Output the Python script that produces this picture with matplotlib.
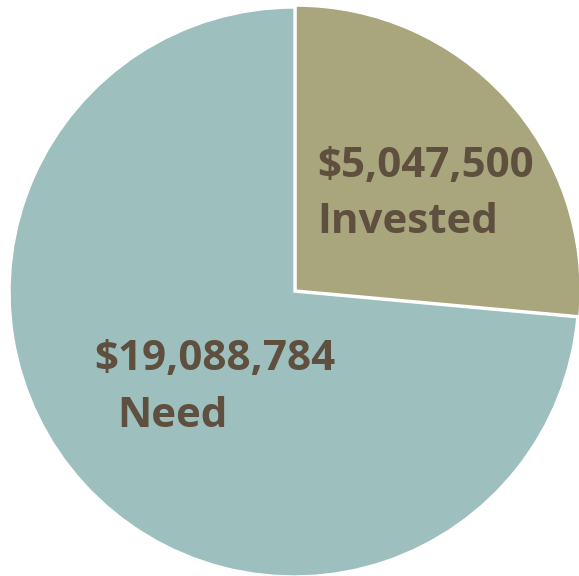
import matplotlib
matplotlib.use("Agg")
from matplotlib import pyplot as plt

# wedge values (the "Need" label shows the total need)
labels = ["Invested", "Need"]
wedges = [5047500, 14041284]
label_values = ["$5,047,500", "$19,088,784"]
colors = ["#A9A57C", "#9DBFBE"]
text_color = "#5F4F3F"

fig = plt.figure(figsize=(5.79, 5.76), dpi=100)
ax = fig.add_axes([0, 0, 1, 1])
ax.pie(wedges, colors=colors, startangle=90, counterclock=False,
       explode=[0.01, 0], radius=1,
       wedgeprops=dict(edgecolor="white", linewidth=1.0))

# pixel layout: centre at (294, 292), radius 284 px
ax.set_xlim(-294 / 284, (579 - 294) / 284)
ax.set_ylim(-(576 - 292) / 284, 292 / 284)
ax.set_aspect("auto")
ax.axis("off")

font = dict(family=["Open Sans", "DejaVu Sans"], weight="bold", size=30.3,
            color=text_color, ha="left", va="baseline")
ax.text(0.081, 0.405, label_values[0], **font)
ax.text(0.081, 0.208, labels[0], **font)
ax.text(-0.704, -0.275, label_values[1], **font)
ax.text(-0.623, -0.475, labels[1], **font)

fig.savefig("out.png", dpi=100)
